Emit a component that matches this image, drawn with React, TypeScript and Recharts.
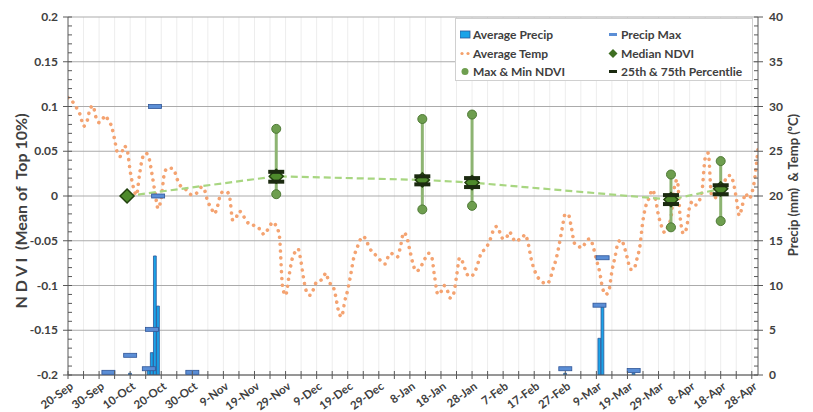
import React from "react";
import { ComposedChart, Bar, Line, Scatter, XAxis, YAxis, CartesianGrid, ErrorBar } from "recharts";

// day 0 = 20-Sep, one label every 10 days
const dateLabels = [
  "20-Sep", "30-Sep", "10-Oct", "20-Oct", "30-Oct", "9-Nov", "19-Nov", "29-Nov", "9-Dec", "19-Dec", "29-Dec",
  "8-Jan", "18-Jan", "28-Jan", "7-Feb", "17-Feb", "27-Feb", "9-Mar", "19-Mar", "29-Mar", "8-Apr", "18-Apr", "28-Apr",
];

// daily average temperature (ºC)
const avgTemp = [
  31.0, 30.7, 30.3, 29.7, 29.0, 27.8, 28.2, 29.6, 30.1, 28.8,
  28.2, 28.5, 29.0, 28.4, 27.8, 26.3, 24.7, 24.4, 25.6, 25.2,
  22.8, 21.0, 20.1, 22.4, 24.3, 24.8, 24.3, 22.5, 20.4, 18.6,
  19.8, 22.5, 23.1, 23.1, 23.0, 22.0, 21.2, 21.0, 20.7, 20.3,
  20.1, 20.2, 20.6, 21.0, 20.6, 19.3, 18.8, 18.0, 18.7, 20.1,
  20.5, 20.5, 19.9, 17.3, 17.5, 18.3, 18.1, 17.4, 17.0, 17.0,
  16.6, 16.4, 16.3, 15.7, 16.1, 16.7, 17.1, 16.6, 15.6, 10.0,
  8.9, 10.8, 12.8, 13.7, 14.1, 12.6, 10.4, 9.1, 8.9, 9.6,
  10.4, 10.5, 10.8, 11.4, 10.3, 10.1, 9.0, 7.2, 6.5, 8.2,
  9.5, 11.3, 13.2, 14.2, 15.1, 15.5, 15.0, 14.2, 13.7, 13.4,
  13.0, 12.6, 12.4, 13.2, 13.6, 13.3, 13.2, 14.4, 15.9, 15.4,
  13.9, 12.4, 11.6, 11.8, 12.4, 13.1, 13.6, 13.2, 10.9, 9.0,
  9.3, 10.0, 9.5, 8.6, 9.0, 11.0, 13.1, 12.6, 11.6, 11.0,
  11.1, 11.6, 12.6, 13.7, 14.0, 14.5, 15.3, 16.3, 16.6, 15.9,
  15.2, 15.3, 16.0, 15.4, 14.9, 15.1, 15.2, 15.7, 14.8, 13.0,
  11.8, 11.0, 10.6, 10.3, 10.2, 10.6, 11.8, 12.9, 14.5, 16.4,
  18.0, 17.9, 16.4, 14.7, 14.6, 14.2, 14.5, 15.1, 15.2, 14.3,
  12.9, 11.6, 9.7, 9.0, 9.4, 11.6, 13.2, 14.8, 15.1, 14.3,
  13.0, 11.8, 11.8, 12.9, 14.4, 17.3, 19.0, 19.8, 20.7, 19.7,
  17.8, 16.6, 15.9, 16.6, 17.6, 20.8, 21.8, 17.5, 15.8, 16.4,
  18.8, 19.4, 19.0, 19.4, 20.6, 24.2, 24.8, 20.2, 19.8, 20.0,
  20.4, 21.3, 22.2, 22.3, 21.6, 19.8, 17.8, 19.0, 20.3, 19.7,
  20.3, 22.1, 25.3,
];

// average precipitation (mm) on rain days
const rainDays = [20, 26, 27, 28, 29, 160, 171, 172, 182];
const rainAvg = [0.2, 0.6, 2.5, 13.3, 7.7, 0.2, 4.1, 7.8, 0.2];

// maximum precipitation (mm)
const rainMaxDays = [13, 20, 26, 27, 28, 29, 40, 160, 171, 172, 182];
const rainMax = [0.3, 2.2, 0.7, 5.1, 30, 20, 0.3, 0.7, 7.8, 13.1, 0.5];

// NDVI samples (first date has a single value)
const ndviDays = [19, 67, 114, 130, 194, 210];
const ndviMedian = [0, 0.022, 0.018, 0.015, -0.004, 0.008];
const ndviMax = [null, 0.075, 0.086, 0.091, 0.024, 0.039];
const ndviMin = [null, 0.002, -0.015, -0.011, -0.035, -0.028];
const ndviP25 = [null, 0.016, 0.013, 0.01, -0.009, 0.002];
const ndviP75 = [null, 0.027, 0.022, 0.02, 0.001, 0.012];

const ndviTicks = [-0.2, -0.15, -0.1, -0.05, 0, 0.05, 0.1, 0.15, 0.2];
const precipTicks = [0, 5, 10, 15, 20, 25, 30, 35, 40];

const daily = avgTemp.map((temp, day) => {
  const k = rainDays.indexOf(day);
  return { day, temp, rain: k >= 0 ? rainAvg[k] : 0 };
});
const maxPts = rainMaxDays.map((day, i) => ({ day, v: rainMax[i] }));
const medianPts = ndviDays.map((day, i) => ({ day, v: ndviMedian[i] }));
const boxIdx = ndviDays.map((_, i) => i).filter((i) => ndviMax[i] !== null);
const whiskerPts = boxIdx.map((i) => ({
  day: ndviDays[i],
  v: ndviMedian[i],
  err: [ndviMedian[i] - (ndviMin[i] as number), (ndviMax[i] as number) - ndviMedian[i]],
}));
const extremePts = boxIdx.flatMap((i) => [
  { day: ndviDays[i], v: ndviMax[i] },
  { day: ndviDays[i], v: ndviMin[i] },
]);
const pctPts = boxIdx.flatMap((i) => [
  { day: ndviDays[i], v: ndviP25[i] },
  { day: ndviDays[i], v: ndviP75[i] },
]);

// minor tick positions
const dayTicks = Array.from({ length: 45 }, (_, i) => i * 5);
const ndviMinor = Array.from({ length: 41 }, (_, i) => Math.round((-0.2 + i * 0.01) * 100) / 100);
const precipMinor = Array.from({ length: 41 }, (_, i) => i);

const FONT = "Lato, 'Open Sans', sans-serif";
const TEXT = "#404040";
const AXIS = "#595959";

const DayTick = (props: any) => {
  const { x, y, payload } = props;
  const v = payload.value as number;
  const label = v % 10 === 0 ? dateLabels[v / 10] : null;
  const ax = x + 6;
  const ay = y + 13;
  return (
    <g>
      <line x1={x} x2={x} y1={y - 4} y2={y + 4} stroke={AXIS} />
      {label && (
        <text
          x={ax}
          y={ay}
          transform={`rotate(-36 ${ax} ${ay})`}
          textAnchor="end"
          fontSize={11.5}
          fontWeight={700}
          fontFamily={FONT}
          fill={TEXT}
        >
          {label}
        </text>
      )}
    </g>
  );
};

const NdviTick = (props: any) => {
  const { x, y, payload } = props;
  const v = payload.value as number;
  const major = ndviTicks.some((t) => Math.abs(t - v) < 1e-9);
  return (
    <g>
      <line x1={major ? x - 5 : x} x2={x + 4} y1={y} y2={y} stroke={AXIS} />
      {major && (
        <text x={x - 10} y={y + 4} textAnchor="end" fontSize={12} fontWeight={700} fontFamily={FONT} fill={TEXT}>
          {String(v)}
        </text>
      )}
    </g>
  );
};

const PrecipTick = (props: any) => {
  const { x, y, payload } = props;
  const v = payload.value as number;
  const major = precipTicks.includes(v);
  return (
    <g>
      <line x1={x - 4} x2={major ? x + 5 : x} y1={y} y2={y} stroke={AXIS} />
      {major && (
        <text x={x + 11} y={y + 4} textAnchor="start" fontSize={12} fontWeight={700} fontFamily={FONT} fill={TEXT}>
          {String(v)}
        </text>
      )}
    </g>
  );
};

const MaxDash = (p: any) => (
  <rect x={p.cx - 6.5} y={p.cy - 2} width={13} height={4} fill="#5B8ED6" stroke="#2F5597" strokeWidth={0.8} />
);
const Diamond = (p: any) => (
  <path
    d={`M${p.cx},${p.cy - 7} L${p.cx + 7},${p.cy} L${p.cx},${p.cy + 7} L${p.cx - 7},${p.cy} Z`}
    fill="#4E8A2C"
    stroke="#22410E"
    strokeWidth={1.5}
  />
);
const Dot = (p: any) => <circle cx={p.cx} cy={p.cy} r={4.5} fill="#6E9E4F" stroke="#4F7A36" strokeWidth={1} />;
const PctBar = (p: any) => <rect x={p.cx - 8} y={p.cy - 2} width={16} height={4} fill="#1B2A10" />;

const legendRows = [
  ["Average Precip", "Precip Max"],
  ["Average Temp", "Median NDVI"],
  ["Max & Min NDVI", "25th & 75th Percentlie"],
];

const legendIcon = (name: string) => {
  switch (name) {
    case "Average Precip":
      return <rect x={0} y={3} width={10} height={7} fill="#1AA3E8" stroke="#2F5597" strokeWidth={0.8} />;
    case "Precip Max":
      return <rect x={1} y={5} width={8} height={3} fill="#5B8ED6" />;
    case "Average Temp":
      return (
        <g fill="#F4A06A">
          <circle cx={2} cy={6.5} r={1.6} />
          <circle cx={8} cy={6.5} r={1.6} />
        </g>
      );
    case "Median NDVI":
      return <path d="M5,2 L9.5,6.5 L5,11 L0.5,6.5 Z" fill="#3F6F22" />;
    case "Max & Min NDVI":
      return <circle cx={5} cy={6.5} r={3.5} fill="#6E9E4F" />;
    default:
      return <rect x={1} y={5} width={8} height={3} fill="#1B2A10" />;
  }
};

const ChartLegend = () => (
  <div
    style={{
      position: "absolute",
      left: 455,
      top: 18,
      width: 298,
      height: 63,
      border: "1px solid #D0D0D0",
      background: "#fff",
      boxSizing: "border-box",
    }}
  >
    {legendRows.map((row, r) =>
      row.map((name, c) => (
        <div
          key={name}
          style={{
            position: "absolute",
            left: c === 0 ? 4 : 152,
            top: 8 + r * 18.5,
            display: "flex",
            alignItems: "center",
            fontFamily: FONT,
            fontSize: 12,
            fontWeight: 700,
            color: TEXT,
            whiteSpace: "nowrap",
          }}
        >
          <svg width={11} height={13} style={{ marginRight: 2 }}>
            {legendIcon(name)}
          </svg>
          {name}
        </div>
      ))
    )}
  </div>
);

export default function App() {
  return (
    <div style={{ position: "absolute", left: 0, top: 0, width: 813, height: 412, background: "#fff", overflow: "hidden" }}>
      <ComposedChart width={813} height={412} data={daily} margin={{ top: 17, right: 0, bottom: 0, left: 0 }}>
        <CartesianGrid
          yAxisId="n"
          horizontal={false}
          verticalValues={dayTicks.slice(1)}
          stroke="#EDEDED"
        />
        <CartesianGrid yAxisId="n" vertical={false} horizontalValues={ndviTicks} stroke="#ABABAB" />
        <XAxis
          dataKey="day"
          type="number"
          domain={[0, 222]}
          ticks={dayTicks}
          interval={0}
          height={37}
          tickSize={0}
          tickMargin={0}
          tickLine={false}
          axisLine={{ stroke: AXIS }}
          tick={<DayTick />}
          allowDataOverflow
        />
        <YAxis
          yAxisId="n"
          domain={[-0.2, 0.2]}
          ticks={ndviMinor}
          interval={0}
          width={68}
          tickSize={0}
          tickMargin={0}
          tickLine={false}
          axisLine={{ stroke: AXIS }}
          tick={<NdviTick />}
          allowDataOverflow
          label={{
            content: () => (
              <text
                transform="translate(20 211) rotate(-90)"
                textAnchor="middle"
                dominantBaseline="central"
                fontSize={16}
                fontWeight={700}
                fontFamily={FONT}
                fill={TEXT}
                style={{ whiteSpace: "pre" }}
              >
                {"N D V I  (Mean of  Top 10%)"}
              </text>
            ),
          }}
        />
        <YAxis
          yAxisId="p"
          orientation="right"
          domain={[0, 40]}
          ticks={precipMinor}
          interval={0}
          width={55}
          tickSize={0}
          tickMargin={0}
          tickLine={false}
          axisLine={{ stroke: AXIS }}
          tick={<PrecipTick />}
          allowDataOverflow
          label={{
            content: () => (
              <text
                transform="translate(793 185) rotate(-90)"
                textAnchor="middle"
                dominantBaseline="central"
                fontSize={13}
                fontWeight={700}
                fontFamily={FONT}
                fill={TEXT}
                style={{ whiteSpace: "pre" }}
              >
                {"Precip (mm)  & Temp (ºC)"}
              </text>
            ),
          }}
        />
        <Bar
          yAxisId="p"
          dataKey="rain"
          barSize={3.5}
          fill="#1AA3E8"
          stroke="#2F5597"
          strokeWidth={0.8}
          isAnimationActive={false}
        />
        <Scatter yAxisId="p" data={maxPts} dataKey="v" shape={MaxDash} isAnimationActive={false} />
        <Line
          yAxisId="p"
          dataKey="temp"
          type="monotone"
          stroke="#F4A371"
          strokeWidth={3.6}
          strokeDasharray="0.01 6.8"
          strokeLinecap="round"
          dot={false}
          activeDot={false}
          isAnimationActive={false}
        />
        <Line
          yAxisId="n"
          data={medianPts}
          dataKey="v"
          type="linear"
          stroke="#A8D681"
          strokeWidth={2.2}
          strokeDasharray="7 4"
          dot={false}
          activeDot={false}
          isAnimationActive={false}
        />
        <Scatter yAxisId="n" data={whiskerPts} dataKey="v" shape={() => <g />} isAnimationActive={false}>
          <ErrorBar dataKey="err" direction="y" width={0} stroke="#8DB472" strokeWidth={3} />
        </Scatter>
        <Scatter yAxisId="n" data={extremePts} dataKey="v" shape={Dot} isAnimationActive={false} />
        <Scatter yAxisId="n" data={medianPts} dataKey="v" shape={Diamond} isAnimationActive={false} />
        <Scatter yAxisId="n" data={pctPts} dataKey="v" shape={PctBar} isAnimationActive={false} />
      </ComposedChart>
      <ChartLegend />
    </div>
  );
}
